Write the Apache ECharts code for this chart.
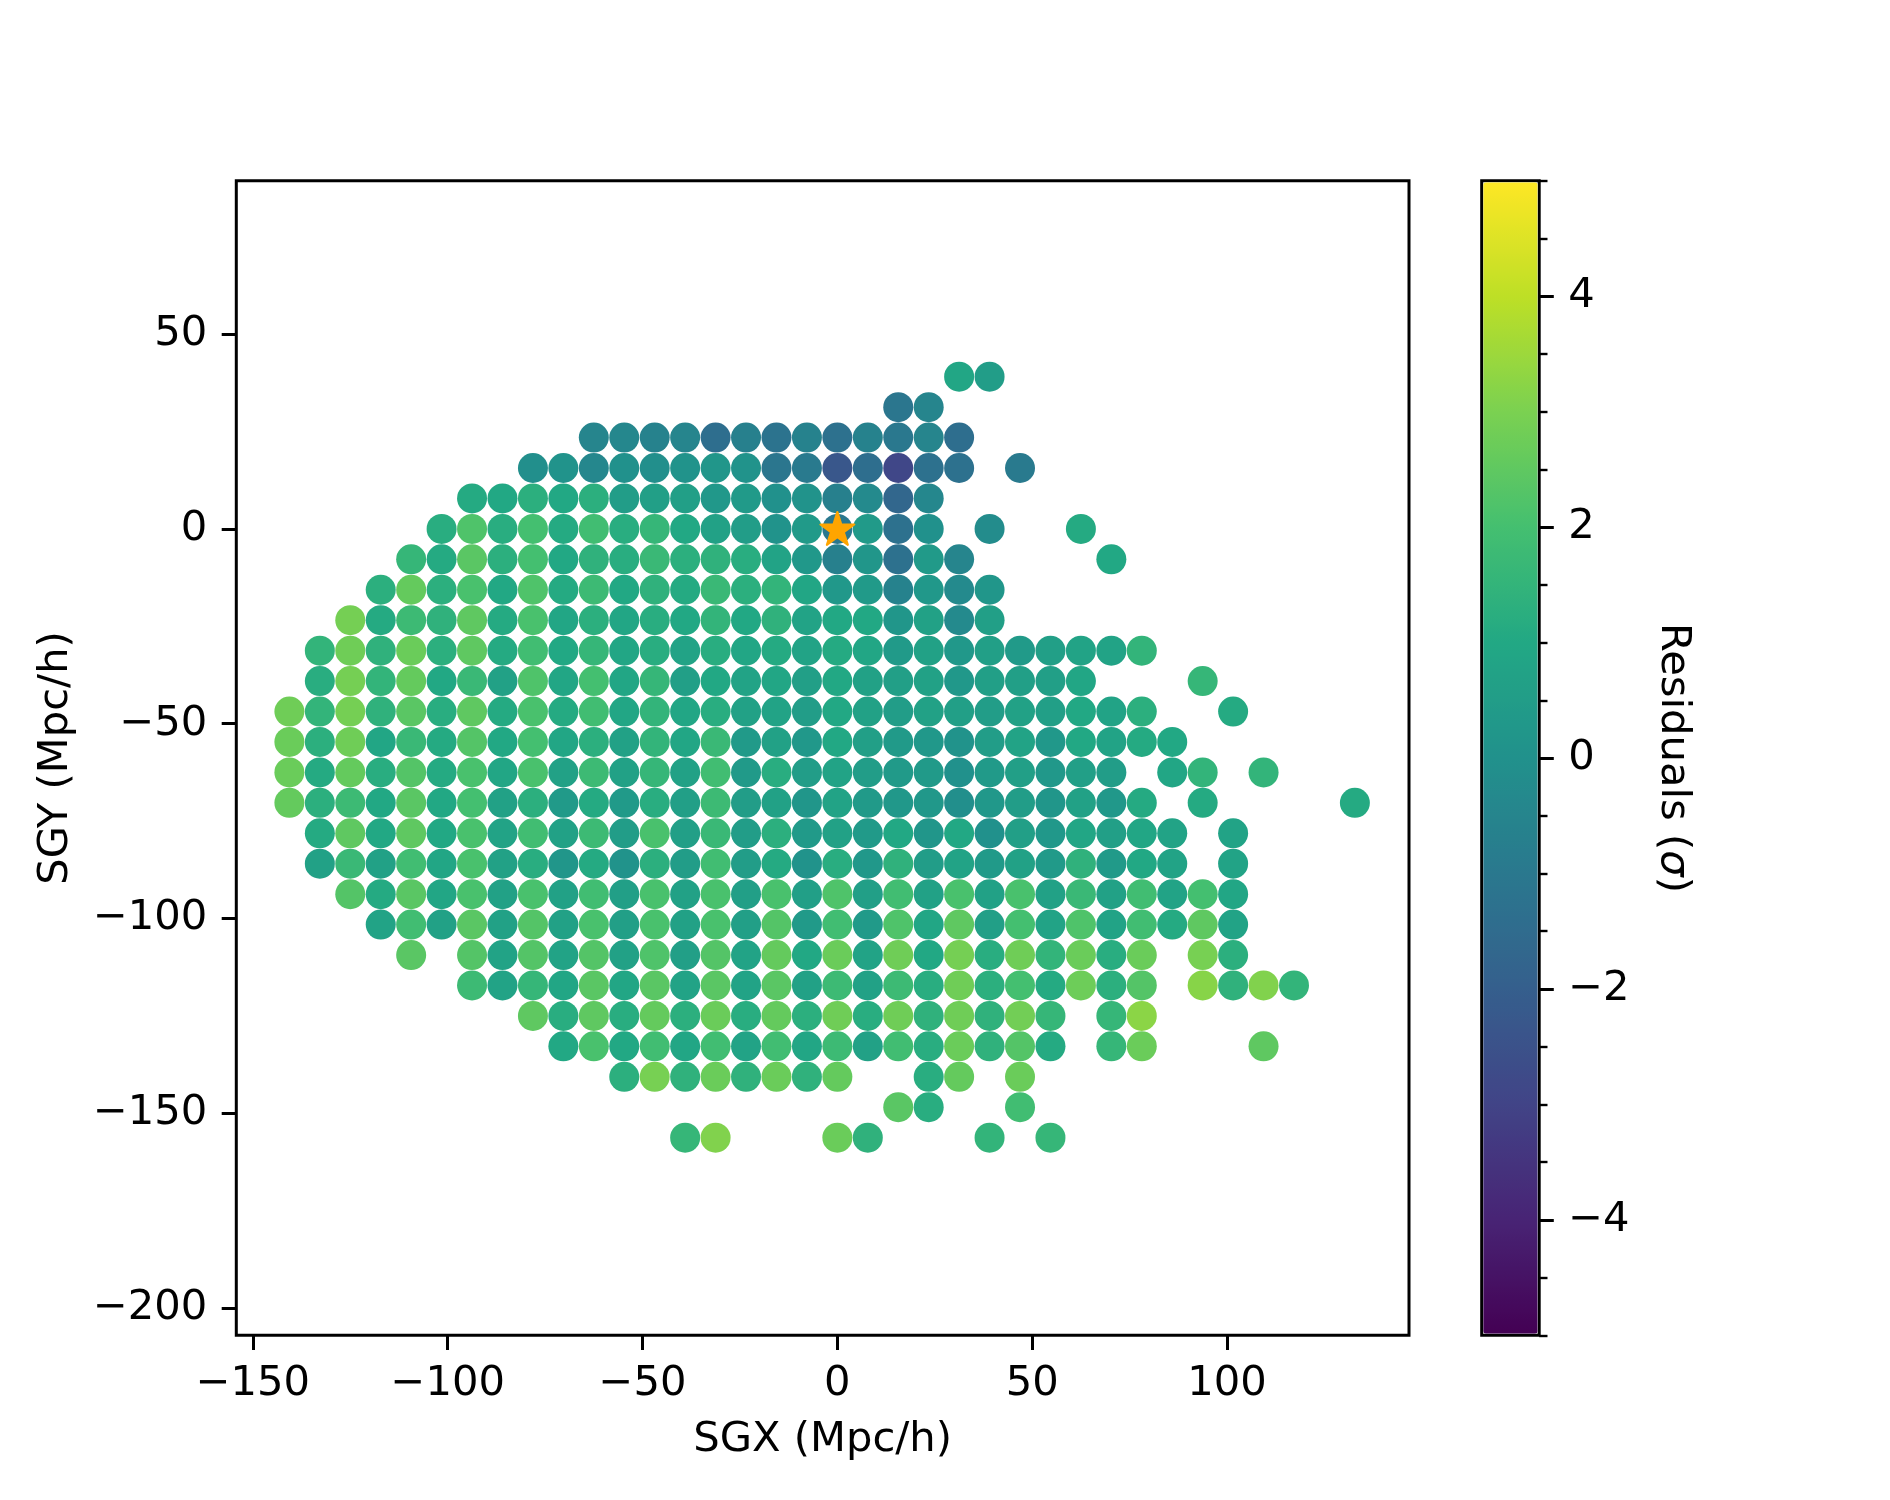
<!DOCTYPE html>
<html>
<head>
<meta charset="utf-8">
<style>html,body{margin:0;padding:0;background:#fff}#c{width:1890px;height:1500px}</style>
<script src="https://cdn.jsdelivr.net/npm/echarts@6/dist/echarts.min.js"></script>
</head>
<body>
<div id="c"></div>
<script>
const cellSize = 7.8125;
const xTicks = [-150, -100, -50, 0, 50, 100];
const yTicks = [-200, -150, -100, -50, 0, 50];
const cbMajor = [-4, -2, 0, 2, 4];
const cbMinor = [-5, -4.5, -3.5, -3, -2.5, -1.5, -1, -0.5, 0.5, 1, 1.5, 2.5, 3, 3.5, 4.5, 5];
const viridis = ['#440154','#482475','#414487','#355f8d','#2a788e','#21918c','#22a884','#44bf70','#7ad151','#bddf26','#fde725'];
const observer = [0, 0];

const rowIndex = [5,4,3,2,1,0,-1,-2,-3,-4,-5,-6,-7,-8,-9,-10,-11,-12,-13,-14,-15,-16,-17,-18,-19,-20];
const rowStart = [4,2,-8,-10,-12,-13,-14,-15,-16,-17,-17,-18,-18,-18,-18,-17,-17,-16,-15,-14,-12,-10,-9,-7,2,-5];
const rowValues = [
 [0.9,0.5],
 [-1.1,-0.5],
 [-0.5,-0.4,-0.6,-0.5,-1.4,-0.7,-1.2,-0.6,-1.3,-0.6,-1.0,-0.5,-1.4],
 [-0.1,0.1,-0.4,0,-0.1,0.1,0.2,0.1,-1.1,-0.9,-2.3,-1.4,-2.9,-1.3,-1.3,null,-0.9],
 [1.1,1.0,1.3,1.0,1.3,0.5,0.6,0.6,0.3,0.4,0,0.1,-0.7,-0.3,-1.7,-0.4],
 [1.2,2.2,1.2,2.0,1.1,1.9,1.2,1.6,1.0,0.7,0.5,0.1,0.4,-1.0,0.4,-1.3,0,null,-0.2,null,null,1.1],
 [1.6,1.1,2.4,1.3,2.0,1.0,1.4,1.2,1.7,1.3,1.4,1.2,0.8,0.3,-0.7,0.2,-1.3,0.4,-0.5,null,null,null,null,1.0],
 [1.3,2.6,1.3,2.1,1.0,2.2,1.1,1.8,1.0,1.4,1.1,1.7,1.3,1.5,0.9,0.3,0.4,-0.6,0.3,-0.3,0.2],
 [2.9,1.1,1.8,1.4,2.5,1.1,2.1,0.9,1.3,0.9,1.2,1.0,1.5,1.0,1.4,0.8,1.0,1.0,0.2,0.7,-0.3,0.6],
 [1.5,2.8,1.4,2.7,1.3,2.5,1.1,1.9,1.0,1.6,0.9,1.2,0.8,1.2,0.9,1.1,0.8,1.1,0.9,0.4,0.7,0.3,0.6,0.4,0.6,0.8,0.8,1.5],
 [1.2,2.9,1.5,2.6,1.0,1.7,0.7,2.2,0.9,2.0,0.9,1.6,0.6,1.0,0.8,0.9,0.6,1.0,0.7,0.6,0.7,0.3,0.6,0.6,0.6,0.9,null,null,null,1.6],
 [2.8,1.5,2.9,1.4,2.4,1.2,2.5,1.1,2.1,1.1,1.9,0.9,1.5,0.9,1.2,0.7,0.8,0.5,1.0,0.7,0.5,0.7,0.6,0.5,0.7,0.6,1.0,0.8,1.3,null,null,1.1],
 [2.7,1.3,2.8,0.9,1.7,1.1,2.3,1.0,2.0,0.9,1.3,0.7,1.5,0.9,1.7,0.4,0.7,0.3,1.0,0.6,0.4,0.3,0.1,0.5,0.8,0.3,1.0,0.8,1.1,1.0],
 [2.7,1.1,2.6,1.2,2.3,1.1,2.1,0.9,2.1,0.7,1.8,0.7,1.6,0.7,1.9,0.4,1.2,0.5,0.8,0.5,0.4,0.4,0,0.4,0.6,0.3,0.6,0.5,null,0.9,1.5,null,1.5],
 [2.6,1.3,1.8,1.0,2.4,1.0,2.0,0.7,1.3,0.4,1.1,0.4,1.2,0.6,1.8,0.5,0.7,0.2,0.8,0.4,0.3,0.3,-0.1,0.3,0.5,0.2,0.7,0.3,1.1,null,1.1,null,null,null,null,1.1],
 [1.1,2.5,1.0,2.5,1.0,2.1,0.8,1.9,0.7,1.8,0.5,2.1,0.6,1.7,0.5,1.3,0.4,0.7,0.4,1.0,0.2,1.0,0,0.6,0.3,0.9,0.6,0.9,0.8,null,0.8],
 [0.7,1.7,0.7,1.9,0.9,2.1,0.7,1.2,0.2,1.1,0.1,1.3,0.5,1.9,0.5,1.1,0.1,1.2,0.3,1.4,0.5,0.8,0.4,0.7,0.4,1.4,0.4,1.0,0.8,null,0.8],
 [2.3,1.1,2.4,0.9,2.1,0.7,2.1,0.7,1.9,0.6,2.1,0.7,2.1,0.6,2.1,0.6,2.2,0.6,1.9,0.7,2.1,0.7,2.1,0.7,1.7,0.7,1.9,0.8,2.0,0.9],
 [0.8,1.9,0.7,2.4,0.7,2.3,0.7,2.1,0.6,2.1,0.7,2.1,0.6,2.3,0.4,1.9,0.4,2.2,0.9,2.5,0.6,2.0,0.8,2.2,0.8,1.9,1.1,2.5,0.8],
 [2.4,null,2.3,0.8,2.3,0.8,2.3,0.7,2.2,0.6,2.3,0.8,2.6,1.0,2.7,0.8,2.8,1.0,2.9,1.2,2.8,1.5,2.7,1.2,2.7,null,2.95,1.3],
 [1.8,0.8,1.6,0.9,2.4,0.9,2.4,0.8,2.4,0.8,2.4,0.7,1.8,0.7,1.8,1.2,2.8,1.3,2.0,1.1,2.75,1.3,2.3,null,3.2,1.4,3.1,1.5],
 [2.5,1.2,2.5,1.2,2.6,1.3,2.7,1.2,2.6,1.3,2.8,1.2,2.8,1.4,2.8,1.4,2.85,1.6,null,1.6,3.25],
 [1.0,2.1,1.0,1.9,0.9,1.9,0.8,1.9,0.9,1.8,0.7,1.9,1.2,2.7,1.4,2.3,1.1,null,1.6,2.7,null,null,null,2.5],
 [1.3,2.95,1.4,2.7,1.4,2.7,1.4,2.6,null,null,1.2,2.6,null,2.7],
 [2.4,1.2,null,null,1.9],
 [1.6,3.1,null,null,null,2.7,1.4,null,null,null,1.5,null,1.6]
];

const points = [];
rowIndex.forEach((j, r) => {
  rowValues[r].forEach((v, i) => {
    if (v !== null) points.push([(rowStart[r] + i) * cellSize, j * cellSize, v]);
  });
});

const FONT = '"DejaVu Sans"';
const SIZE = 41.67;
const fmt = v => String(v).replace('-', '\u2212');
const line = {lineStyle: {color: '#000', width: 3}};
const noLine = {show: false, onZero: false};
const starPath = 'path://M100 0 L122.45 69.1 L195.1 69.1 L136.3 111.8 L158.8 180.9 L100 138.2 L41.2 180.9 L63.7 111.8 L4.9 69.1 L77.55 69.1 Z';

const chart = echarts.init(document.getElementById('c'), null, {width: 1890, height: 1500});
chart.setOption({
  animation: false,
  backgroundColor: '#fff',
  textStyle: {fontFamily: FONT},
  grid: [
    {left: 236.3, top: 180.7, width: 1172.7, height: 1154.6, show: true, borderColor: '#000', borderWidth: 3, backgroundColor: 'transparent', containLabel: false},
    {left: 1481.7, top: 180.7, width: 57.5, height: 1154.6, show: true, borderColor: '#000', borderWidth: 3, backgroundColor: 'transparent', containLabel: false}
  ],
  xAxis: [
    {gridIndex: 0, type: 'value', min: -154.25, max: 146.7, splitLine: {show: false}, axisLine: noLine,
     axisTick: {show: true, length: 14.6, customValues: xTicks, ...line},
     axisLabel: {show: true, customValues: xTicks, formatter: fmt, margin: 28, color: '#000', fontSize: SIZE, fontFamily: FONT},
     name: 'SGX (Mpc/h)', nameLocation: 'middle', nameGap: 84, nameTextStyle: {color: '#000', fontSize: SIZE, fontFamily: FONT}},
    {gridIndex: 1, type: 'value', min: 0, max: 1, show: false}
  ],
  yAxis: [
    {gridIndex: 0, type: 'value', min: -206.98, max: 89.37, splitLine: {show: false}, axisLine: noLine,
     axisTick: {show: true, length: 14.6, customValues: yTicks, ...line},
     axisLabel: {show: true, customValues: yTicks, formatter: fmt, margin: 29, padding: [10, 0, 0, 0], color: '#000', fontSize: SIZE, fontFamily: FONT},
     name: 'SGY (Mpc/h)', nameLocation: 'middle', nameGap: 159, nameTextStyle: {color: '#000', fontSize: SIZE, fontFamily: FONT}},
    {gridIndex: 1, type: 'value', position: 'right', min: -5, max: 5, splitLine: {show: false}, axisLine: noLine,
     axisTick: {show: true, length: 14.6, customValues: cbMajor, ...line},
     axisLabel: {show: true, customValues: cbMajor, formatter: fmt, margin: 29, padding: [17, 0, 0, 0], color: '#000', fontSize: SIZE, fontFamily: FONT},
     name: 'Residuals ({i|\u03c3})', nameLocation: 'middle', nameRotate: -90, nameGap: 113,
     nameTextStyle: {color: '#000', fontSize: SIZE, fontFamily: FONT, rich: {i: {fontStyle: 'italic', fontSize: SIZE, fontFamily: FONT, color: '#000'}}}},
    {gridIndex: 1, type: 'value', position: 'right', min: -5, max: 5, splitLine: {show: false}, axisLine: noLine,
     axisTick: {show: true, length: 8.3, customValues: cbMinor, lineStyle: {color: '#000', width: 2.4}},
     axisLabel: {show: false}}
  ],
  visualMap: [{
    type: 'continuous', seriesIndex: 0, dimension: 2, min: -5, max: 5,
    calculable: false, hoverLink: false, realtime: false, text: null, padding: 0,
    left: 1483.2, top: 182.2, itemWidth: 54.5, itemHeight: 1151.6,
    inRange: {color: viridis}
  }],
  series: [
    {type: 'scatter', xAxisIndex: 0, yAxisIndex: 0, data: points, symbol: 'circle', symbolSize: 30, silent: true, itemStyle: {opacity: 1}, z: 3},
    {type: 'scatter', xAxisIndex: 0, yAxisIndex: 0, data: [observer], symbol: starPath, symbolKeepAspect: false, symbolSize: [34, 33], symbolOffset: [0, -0.5], silent: true, itemStyle: {color: '#ffa500', opacity: 1, borderColor: '#ffa500', borderWidth: 2, borderJoin: 'round'}, z: 4}
  ]
});
</script>
</body>
</html>
